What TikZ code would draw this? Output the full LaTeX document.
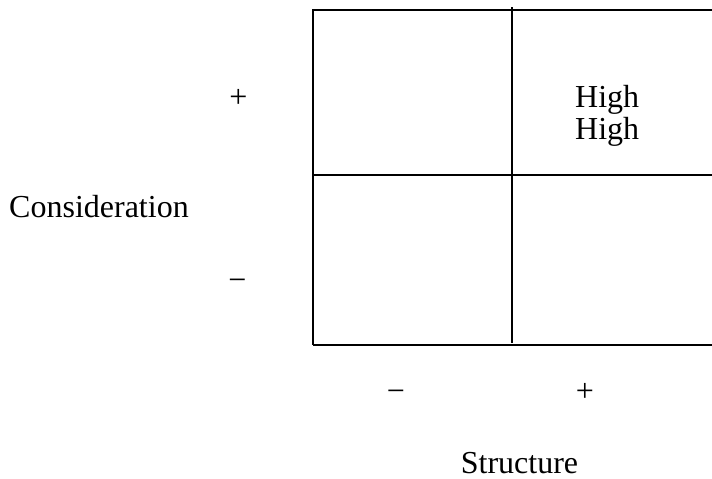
\documentclass[tikz,border=0pt]{standalone}
\usepackage{fontspec}
\setmainfont{Liberation Serif}
\begin{document}
\begin{tikzpicture}[x=1pt,y=-1pt,
  lbl/.style={inner sep=0pt,font=\fontsize{32}{38}\selectfont,anchor=base},
  frame/.style={line width=1.6pt,black}]
\useasboundingbox (0,0) rectangle (712,479);
% grid frame (open to the right)
\coordinate (tr) at (712,10);
\coordinate (tl) at (313,10);
\coordinate (bl) at (313,345);
\coordinate (br) at (712,345);
\draw[frame] (tr) -- (tl) -- (bl);
\draw[line width=2.4pt] (bl) -- (br);
% dividing lines
\coordinate (vtop) at (512,7);
\coordinate (vbot) at (512,343);
\coordinate (hl) at (313,175);
\coordinate (hr) at (712,175);
\draw[frame] (vtop) -- (vbot);
\draw[frame] (hl) -- (hr);
% quadrant text
\node[lbl,anchor=base west] (h1) at (575,107) {High};
\node[lbl,anchor=base west] (h2) at (575,139) {High};
% vertical axis
\node[lbl] (cons) at (99,217) {Consideration};
\node[lbl] (vp) at (238.5,107) {+};
\node[lbl] (vm) at (237.5,290) {\textminus};
% horizontal axis
\node[lbl] (hm) at (396,401) {\textminus};
\node[lbl] (hp) at (585,401) {+};
\node[lbl] (str) at (519.5,473) {Structure};
\end{tikzpicture}
\end{document}
